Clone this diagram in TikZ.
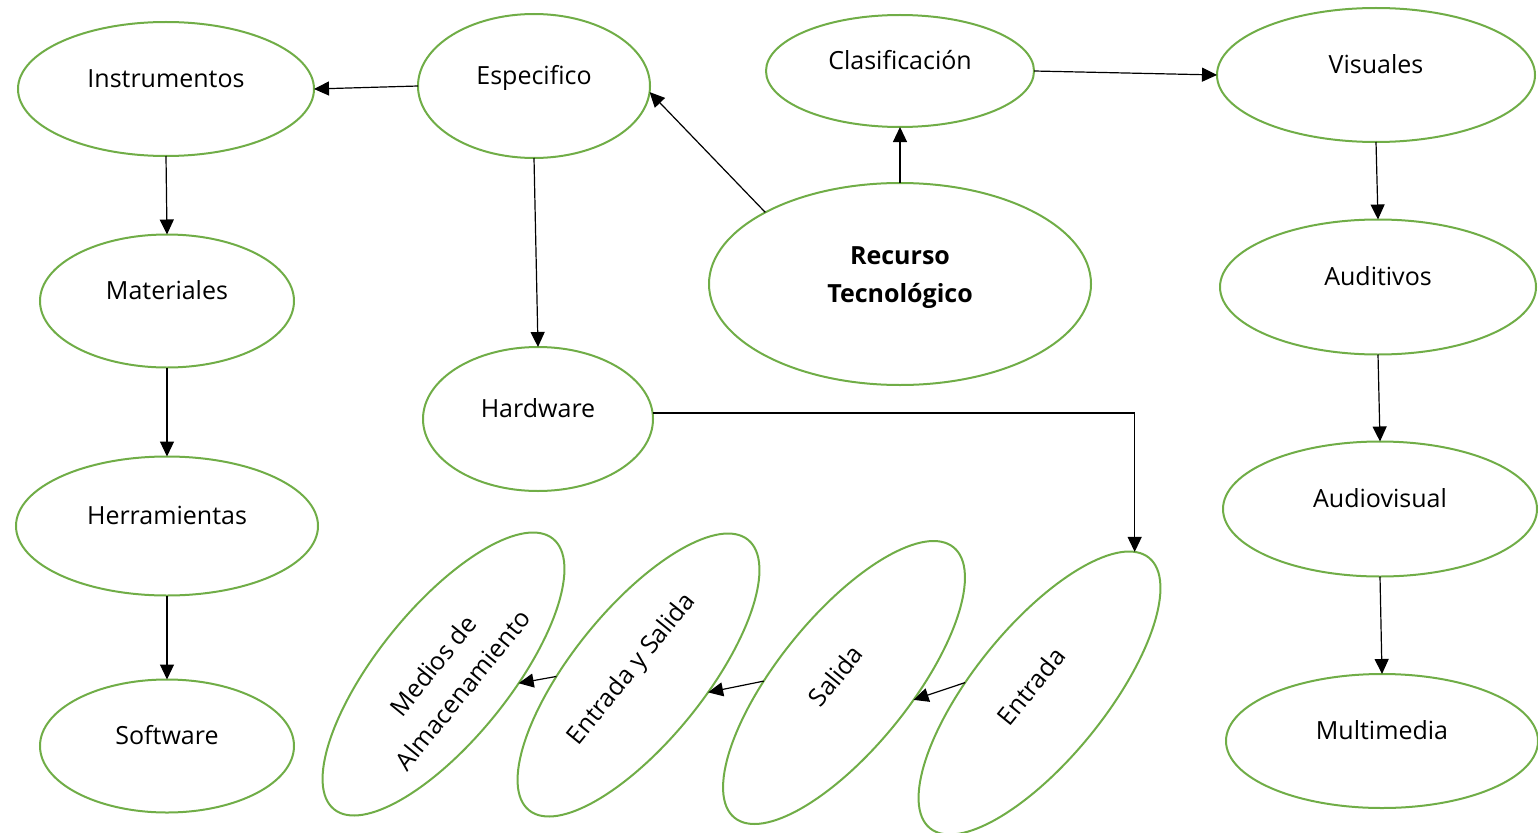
\documentclass[tikz,border=0pt]{standalone}
\usepackage{fontspec}
\setmainfont{Open Sans}
\usetikzlibrary{shapes.geometric,arrows.meta}
\definecolor{ogreen}{HTML}{70AD47}
\begin{document}
\begin{tikzpicture}[x=1pt,y=-1pt,
  oval/.style={ellipse, draw=ogreen, line width=2pt, inner sep=0pt, outer sep=0pt,
    font=\fontsize{25}{38.5}\selectfont, text height=18pt, text depth=21pt, align=center},
  tilt/.style={oval, rotate=51, minimum width=348pt, minimum height=132pt},
  link/.style={draw=black, line width=1.2pt, -{Triangle[length=15pt,width=14pt]}}
]
\useasboundingbox (0,0) rectangle (1538,832);

\node[oval, minimum width=296pt, minimum height=134pt] (instr) at (166,89) {Instrumentos};
\node[oval, minimum width=232pt, minimum height=144pt] (espec) at (534,86) {Especifico};
\node[oval, minimum width=268pt, minimum height=112pt] (clas) at (900,71) {Clasificación};
\node[oval, minimum width=318pt, minimum height=134pt] (vis) at (1376,75) {Visuales};
\node[oval, minimum width=382pt, minimum height=202pt,
      font=\bfseries\fontsize{25}{38.5}\selectfont, text height=, text depth=] (rec) at (900,284)
      {\rule{0pt}{20pt}Recurso\\Tecnológico\rule[-21.5pt]{0pt}{21.5pt}};
\node[oval, minimum width=254pt, minimum height=133pt] (mat) at (167,301) {Materiales};
\node[oval, minimum width=230pt, minimum height=144pt] (hard) at (538,419) {Hardware};
\node[oval, minimum width=316pt, minimum height=135pt] (aud) at (1378,287) {Auditivos};
\node[oval, minimum width=302pt, minimum height=139pt] (herr) at (167,526) {Herramientas};
\node[oval, minimum width=314pt, minimum height=135pt] (audv) at (1380,509) {Audiovisual};
\node[oval, minimum width=254pt, minimum height=133pt] (soft) at (167,746) {Software};
\node[oval, minimum width=312pt, minimum height=134pt] (multi) at (1382,741) {Multimedia};

\node[tilt, text height=, text depth=] (med) at (443.5,674) {\rule{0pt}{30pt}Medios de\\Almacenamiento};
\node[tilt] (es) at (638.5,675) {Entrada y Salida};
\node[tilt] (sal) at (844,682.5) {Salida};
\node[tilt] (ent) at (1039.5,693) {Entrada};

\draw[link] (espec.west) -- (instr.east);
\draw[link] (rec.152) -- (espec.-3);
\draw[link] (rec.north) -- (clas.south);
\draw[link] (clas.east) -- (vis.west);
\draw[link] (espec.south) -- (hard.north);
\draw[link] (instr.south) -- (mat.north);
\draw[link] (mat.south) -- (herr.north);
\draw[link] (herr.south) -- (soft.north);
\draw[link] (vis.south) -- (aud.north);
\draw[link] (aud.south) -- (audv.north);
\draw[link] (audv.south) -- (multi.north);
\draw[link] (hard.3) -| (ent.5);
\draw[link] (ent.121) -- (sal.-65);
\draw[link] (sal.128) -- (es.-65);
\draw[link] (es.130) -- (med.-58);
\end{tikzpicture}
\end{document}
